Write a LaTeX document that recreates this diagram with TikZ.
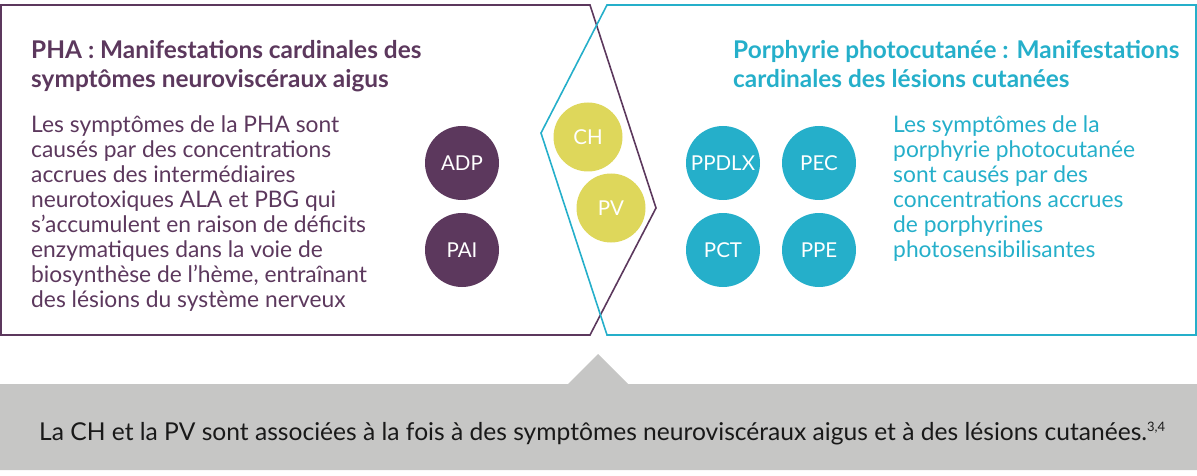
\documentclass[tikz,border=0pt]{standalone}
\usepackage{fontspec}
\setmainfont{Lato}
\usepackage{tikz}
\usepackage{xcolor}
\definecolor{plum}{HTML}{5C385D}
\definecolor{aqua}{HTML}{25AFCA}
\definecolor{mustard}{HTML}{DED75B}
\definecolor{band}{HTML}{C6C6C5}

\begin{document}
\begin{tikzpicture}[x=1pt,y=-1pt,
  bubble/.style={circle,fill=#1,text=white,minimum size=74pt,inner sep=0pt,
    font=\fontsize{20.5}{20.5}\selectfont},
  heading/.style={anchor=base west,align=left,inner sep=0pt,
    font=\fontsize{24.4}{29}\selectfont\bfseries},
  blurb/.style={anchor=base west,align=left,inner sep=0pt,
    font=\fontsize{22.8}{25}\selectfont}]
\useasboundingbox (0,0) rectangle (1197,476);
% gray band with pointer
\fill[band] (0,384) -- (568,384) -- (598,354) -- (628,384) -- (1197,384)
  -- (1197,470) -- (0,470) -- cycle;
\node[anchor=base west,inner sep=0pt,font=\fontsize{24.6}{24.6}\selectfont,text=black!90]
  (note) at (39,440) {La CH et la PV sont associées à la fois à des symptômes neuroviscéraux aigus et à des lésions cutanées.\raisebox{9pt}{\fontsize{13}{13}\selectfont 3,4}};
% the two panels
\draw[plum,line width=1.6pt] (1,5) -- (590,5) -- (656,208) -- (590,335) -- (1,335) -- cycle;
\draw[aqua,line width=1.6pt] (607,5) -- (1196,5) -- (1196,335) -- (607,335) -- (541,133) -- cycle;
% left texts (base = last line)
\node[heading,text=plum] (phatitle) at (31,88) {PHA : Manifestations cardinales des\\symptômes neuroviscéraux aigus};
\node[blurb,text=plum] (phatext) at (31,307) {Les symptômes de la PHA sont\\causés par des concentrations\\accrues des intermédiaires\\neurotoxiques ALA et PBG qui\\s’accumulent en raison de déficits\\enzymatiques dans la voie de\\biosynthèse de l’hème, entraînant\\des lésions du système nerveux};
% right texts
\node[heading,text=aqua] (pptitle) at (733,88) {Porphyrie photocutanée : Manifestations\\cardinales des lésions cutanées};
\node[blurb,text=aqua] (pptext) at (893,257) {Les symptômes de la\\porphyrie photocutanée\\sont causés par des\\concentrations accrues\\de porphyrines\\photosensibilisantes};
% circles
\node[bubble=plum] (adp) at (462,163) {ADP};
\node[bubble=plum] (pai) at (462,250) {PAI};
\node[bubble=mustard,minimum size=69pt] (ch) at (588,137) {CH};
\node[bubble=mustard,minimum size=69pt] (pv) at (611,208) {PV};
\node[bubble=aqua] (ppdlx) at (723,163) {PPDLX};
\node[bubble=aqua] (pec) at (819,163) {PEC};
\node[bubble=aqua] (pct) at (723,250) {PCT};
\node[bubble=aqua] (ppe) at (819,250) {PPE};
\end{tikzpicture}
\end{document}
